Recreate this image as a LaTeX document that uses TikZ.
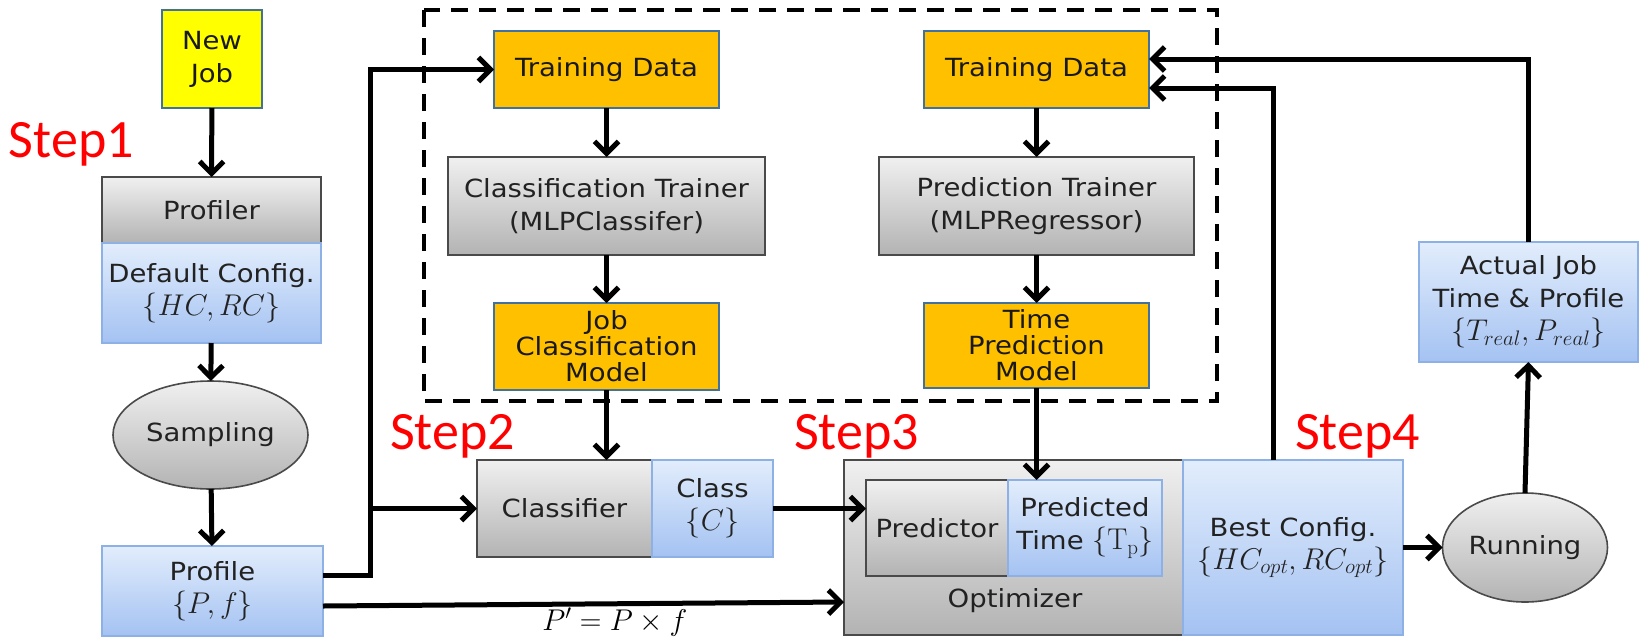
\RequirePackage{fix-cm}
\documentclass[tikz,border=0pt]{standalone}
\usepackage[no-math]{fontspec}
\setmainfont{DejaVu Sans}[FakeStretch=1.1]
\newfontfamily\stepfont{Carlito}
\usetikzlibrary{arrows.meta,shapes.geometric}

% formulas are set a little larger than the surrounding sans text
\newcommand\mtx[1]{{\fontsize{30}{33}\selectfont$#1$}}

\definecolor{grayT}{HTML}{F0F0F0}
\definecolor{grayB}{HTML}{B3B3B3}
\definecolor{grayEdge}{HTML}{4A4A4A}
\definecolor{grayText}{HTML}{222222}
\definecolor{blueT}{HTML}{E2EDFC}
\definecolor{blueB}{HTML}{A4C2F2}
\definecolor{blueEdge}{HTML}{8DB1E4}
\definecolor{orangeFill}{HTML}{FFC000}
\definecolor{slateEdge}{HTML}{41719C}
\definecolor{yellowFill}{HTML}{FFFF00}
\definecolor{stepRed}{HTML}{FF0000}

\begin{document}
\begin{tikzpicture}[x=1pt,y=-1pt,
  every node/.style={inner sep=0pt, outer sep=0pt, align=center,
    font=\fontsize{25}{33}\selectfont},
  tight/.style={font=\fontsize{25}{26}\selectfont},
  graybox/.style={rectangle, draw=grayEdge, line width=2pt,
    top color=grayT, bottom color=grayB, text=grayText},
  bluebox/.style={rectangle, draw=blueEdge, line width=2pt,
    top color=blueT, bottom color=blueB, text=grayText},
  orangebox/.style={rectangle, draw=slateEdge, line width=2.5pt,
    fill=orangeFill, text=black!90},
  yellowbox/.style={rectangle, draw=slateEdge, line width=2.5pt,
    fill=yellowFill, text=black!90},
  grayoval/.style={ellipse, draw=grayEdge, line width=1.6pt,
    top color=grayT, bottom color=grayB, text=grayText},
  steplabel/.style={anchor=base west, text=stepRed,
    font=\stepfont\fontsize{54}{54}\selectfont},
  arr/.style={line width=5pt, -{Straight Barb[length=12pt,width=24pt]}},
  dashframe/.style={line width=4pt, dash pattern=on 17pt off 11pt}
]
\useasboundingbox (0,0) rectangle (1642,638);

% ---------- training frame ----------
\draw[dashframe] (424,10) rectangle (1217,401);

% ---------- left column ----------
\node[yellowbox, minimum width=100pt, minimum height=98pt] (newjob) at (212,59) {New\\Job};
\node[graybox, minimum width=219pt, minimum height=66pt] (profiler) at (211.5,210) {Profiler};
\node[bluebox, minimum width=219pt, minimum height=100pt] (defcfg) at (211.5,293) {Default Config.\\\mtx{\{HC,RC\}}};
\node[grayoval, minimum width=195pt, minimum height=108pt] (sampling) at (210.5,435) {Sampling};
\node[bluebox, minimum width=221pt, minimum height=90pt] (profile) at (212.5,591) {Profile\\\mtx{\{P,f\}}};

% ---------- classification branch ----------
\node[orangebox, minimum width=225pt, minimum height=77pt] (train1) at (606.5,69.5) {Training Data};
\node[graybox, minimum width=317pt, minimum height=98pt] (ctrainer) at (606.5,206) {Classification Trainer\\(MLPClassifer)};
\node[orangebox, tight, minimum width=225pt, minimum height=87pt] (jcm) at (606.5,346.5) {Job\\Classification\\Model};
\node[graybox, minimum width=175pt, minimum height=97pt] (classifier) at (564.5,508.5) {Classifier};
\node[bluebox, minimum width=121pt, minimum height=97pt] (class) at (712.5,508.5) {Class\\\mtx{\{C\}}};

% ---------- prediction branch ----------
\node[orangebox, minimum width=225pt, minimum height=77pt] (train2) at (1036.5,69.5) {Training Data};
\node[graybox, minimum width=315pt, minimum height=98pt] (ptrainer) at (1036.5,206) {Prediction Trainer\\(MLPRegressor)};
\node[orangebox, tight, minimum width=225pt, minimum height=85pt] (tpm) at (1036.5,345.5) {Time\\Prediction\\Model};

% ---------- optimizer ----------
\node[graybox, minimum width=339pt, minimum height=175pt] (optimizer) at (1013.5,547.5) {};
\node[graybox, minimum width=142pt, minimum height=96pt] (predictor) at (937,528) {Predictor};
\node[bluebox, minimum width=154pt, minimum height=96pt] (ptime) at (1085,528) {Predicted\\Time \mtx{\{\mathrm{T_p}\}}};
\node[text=grayText] (optlbl) at (1015,601) {Optimizer};
\node[bluebox, minimum width=220pt, minimum height=175pt] (bestcfg) at (1293,547.5) {Best Config.\\\mtx{\{HC_{opt},RC_{opt}\}}};

% ---------- execution ----------
\node[grayoval, minimum width=165pt, minimum height=109pt] (running) at (1525,547.5) {Running};
\node[bluebox, minimum width=219pt, minimum height=120pt] (actual) at (1528.5,302) {Actual Job\\Time \& Profile\\\mtx{\{T_{real},P_{real}\}}};

% ---------- step labels ----------
\node[steplabel] (step1) at (9,157) {Step1};
\node[steplabel] (step2) at (390,449) {Step2};
\node[steplabel] (step3) at (794,449) {Step3};
\node[steplabel] (step4) at (1295,449) {Step4};

% ---------- connectors ----------
\draw[arr] (newjob) -- (profiler);
\draw[arr] (defcfg) -- (sampling);
\draw[arr] (sampling) -- (profile);

\coordinate (bus) at (370,575);
\draw[arr] ([yshift=16pt]profile.east) -- (bus) -- (bus |- train1.west) -- (train1.west);
\draw[arr] (bus |- classifier.west) -- (classifier.west);

\draw[arr] ([yshift=-15pt]profile.east) -- ([yshift=-54.5pt]optimizer.west)
  node[pos=0.56, below=4pt, text=black] (pform) {\mtx{P' = P \times f}};

\draw[arr] (train1) -- (ctrainer);
\draw[arr] (ctrainer) -- (jcm);
\draw[arr] (jcm.south) -- (jcm.south |- classifier.north);

\draw[arr] (train2) -- (ptrainer);
\draw[arr] (ptrainer) -- (tpm);
\draw[arr] (tpm.south) -- (tpm.south |- ptime.north);

\draw[arr] (class.east) -- (class.east -| predictor.west);

\draw[arr] ([xshift=-20pt]bestcfg.north) |- ([yshift=-18.5pt]train2.east);
\draw[arr] (actual.north) |- ([yshift=10.5pt]train2.east);
\draw[arr] (bestcfg.east) -- (running.west);
\draw[arr] (running.north) -- (actual.south);
\end{tikzpicture}
\end{document}
